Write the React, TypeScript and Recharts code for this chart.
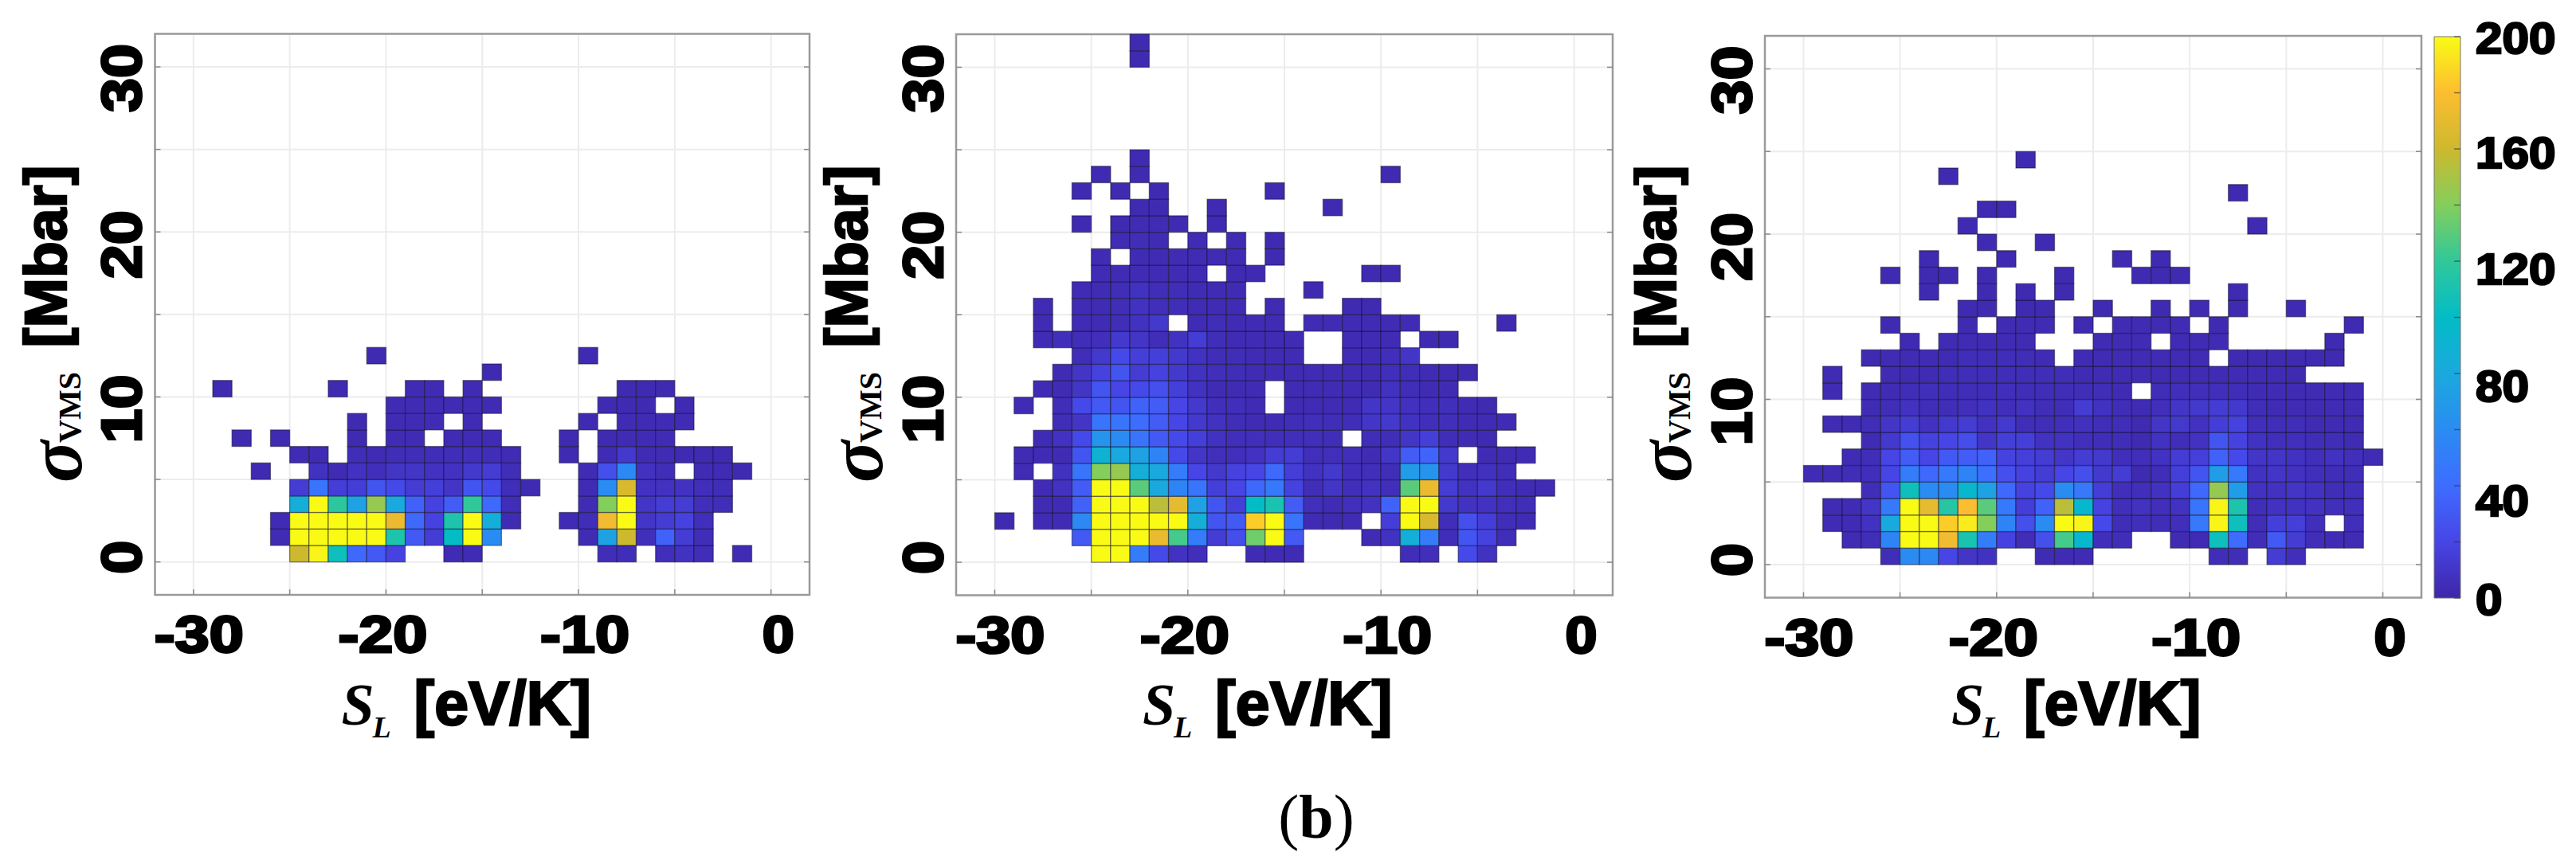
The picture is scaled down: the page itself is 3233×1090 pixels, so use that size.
import React from 'react';
import {
  Bar,
  BarChart,
  CartesianGrid,
  ReferenceArea,
  Scatter,
  ScatterChart,
  XAxis,
  YAxis,
} from 'recharts';

// Every row is one sigma bin (row 0 = 0-1 Mbar), every column one S_L bin from -30 to -1 eV/K. 0 = empty bin.
const countsLeft = [
  [0,0,0,0,0,160,198,105,38,30, 18,0,0,4,4,0,0,0,0,0, 0,5,5,0,6,8,5,0,4,0],
  [0,0,0,0,4,200,200,200,200,200, 112,30,14,100,200,60,0,0,0,0, 4,75,160,6,35,14,5,0,0,0],
  [0,0,0,0,4,200,200,200,200,200, 172,38,18,112,200,85,4,0,0,4, 5,175,200,10,14,18,6,0,0,0],
  [0,0,0,0,0,85,200,118,75,145, 80,35,18,32,120,38,5,0,0,0, 4,140,200,10,14,14,6,5,0,0],
  [0,0,0,0,0,14,45,15,15,28, 22,14,16,10,28,22,5,3,0,0, 4,60,165,8,8,8,6,5,0,0],
  [0,0,0,3,0,0,8,4,8,6, 10,10,8,8,12,14,5,0,0,0, 4,25,58,8,5,0,4,4,3,0],
  [0,0,0,0,0,4,4,0,5,4, 5,5,5,5,6,5,4,0,0,3, 0,4,12,4,4,3,3,3,0,0],
  [0,0,3,0,3,0,0,0,3,0, 4,4,0,4,4,4,0,0,0,3, 0,3,4,4,4,0,0,0,0,0],
  [0,0,0,0,0,0,0,0,3,0, 4,4,4,0,4,0,0,0,0,0, 3,0,4,4,4,4,0,0,0,0],
  [0,0,0,0,0,0,0,0,0,0, 4,4,4,4,4,4,0,0,0,0, 0,3,3,3,0,3,0,0,0,0],
  [0,3,0,0,0,0,0,3,0,0, 0,4,4,0,4,0,0,0,0,0, 0,0,3,3,3,0,0,0,0,0],
  [0,0,0,0,0,0,0,0,0,0, 0,0,0,0,0,3,0,0,0,0, 0,0,0,0,0,0,0,0,0,0],
  [0,0,0,0,0,0,0,0,0,3, 0,0,0,0,0,0,0,0,0,0, 3,0,0,0,0,0,0,0,0,0],
];

const countsMiddle = [
  [0,0,0,0,0,200,200,50,22,8, 6,0,0,4,4,4,0,0,0,0, 0,5,6,0,22,8,0,0,0,0],
  [0,0,0,0,30,200,200,200,172,125, 50,14,24,135,200,30,0,0,0,4, 8,85,50,5,28,18,5,0,0,0],
  [3,0,4,4,58,200,200,200,200,200, 85,28,30,185,200,45,4,3,4,0, 15,200,165,5,25,15,5,4,0,0],
  [0,0,4,4,35,200,200,200,155,170, 75,28,16,100,110,32,6,4,6,8, 35,200,200,12,8,8,6,5,0,0],
  [0,0,4,8,32,200,200,130,80,55, 45,16,20,38,48,18,5,10,6,8, 6,130,172,14,8,12,6,4,4,0],
  [0,4,0,8,45,140,145,85,80,50, 20,12,18,20,38,15,8,12,6,6, 5,70,65,12,6,7,5,0,0,0],
  [0,4,4,4,28,90,80,75,55,22, 10,6,6,8,14,14,6,6,6,4, 10,32,36,12,0,4,4,4,0,0],
  [0,0,4,8,22,65,60,45,30,22, 16,8,6,6,6,6,6,5,0,5, 5,10,16,5,4,3,0,0,0,0],
  [0,0,0,5,10,45,45,40,32,20, 12,8,5,4,4,5,6,5,5,10, 12,8,6,6,4,4,4,0,0,0],
  [0,4,0,5,22,30,28,35,32,20, 12,6,6,4,0,4,4,4,4,10, 10,7,6,6,4,3,0,0,0,0],
  [0,0,4,4,10,28,20,22,25,16, 8,4,4,4,0,4,4,4,4,4, 8,5,4,4,0,0,0,0,0,0],
  [0,0,0,4,10,18,28,14,18,12, 8,6,5,4,4,4,4,4,4,4, 6,5,4,3,3,0,0,0,0,0],
  [0,0,0,0,5,12,22,16,16,12, 8,5,5,4,4,4,0,0,4,4, 6,10,0,0,0,0,0,0,0,0],
  [0,0,4,6,5,6,12,10,5,8, 14,5,4,4,4,4,0,0,4,4, 4,0,3,3,0,0,0,0,0,0],
  [0,0,4,0,4,4,5,8,12,0, 4,5,4,4,4,0,4,4,4,4, 4,4,0,0,0,0,3,0,0,0],
  [0,0,4,0,4,4,5,8,6,5, 4,4,4,0,4,0,0,0,3,3, 0,0,0,0,0,0,0,0,0,0],
  [0,0,0,0,4,4,5,8,5,5, 4,4,4,0,0,0,3,0,0,0, 0,0,0,0,0,0,0,0,0,0],
  [0,0,0,0,0,4,4,4,4,4, 4,0,3,3,0,0,0,0,0,3, 3,0,0,0,0,0,0,0,0,0],
  [0,0,0,0,0,4,0,4,4,4, 4,4,4,0,3,0,0,0,0,0, 0,0,0,0,0,0,0,0,0,0],
  [0,0,0,0,0,0,4,5,4,0, 4,0,4,0,3,0,0,0,0,0, 0,0,0,0,0,0,0,0,0,0],
  [0,0,0,0,3,0,3,4,4,3, 0,3,0,0,0,0,0,0,0,0, 0,0,0,0,0,0,0,0,0,0],
  [0,0,0,0,0,0,0,3,3,0, 0,3,0,0,0,0,0,3,0,0, 0,0,0,0,0,0,0,0,0,0],
  [0,0,0,0,3,0,3,0,3,0, 0,0,0,0,3,0,0,0,0,0, 0,0,0,0,0,0,0,0,0,0],
  [0,0,0,0,0,3,0,3,0,0, 0,0,0,0,0,0,0,0,0,0, 3,0,0,0,0,0,0,0,0,0],
  [0,0,0,0,0,0,0,3,0,0, 0,0,0,0,0,0,0,0,0,0, 0,0,0,0,0,0,0,0,0,0],
  [0,0,0,0,0,0,0,0,0,0, 0,0,0,0,0,0,0,0,0,0, 0,0,0,0,0,0,0,0,0,0],
  [0,0,0,0,0,0,0,0,0,0, 0,0,0,0,0,0,0,0,0,0, 0,0,0,0,0,0,0,0,0,0],
  [0,0,0,0,0,0,0,0,0,0, 0,0,0,0,0,0,0,0,0,0, 0,0,0,0,0,0,0,0,0,0],
  [0,0,0,0,0,0,0,0,0,0, 0,0,0,0,0,0,0,0,0,0, 0,0,0,0,0,0,0,0,0,0],
  [0,0,0,0,0,0,0,0,0,0, 0,0,0,0,0,0,0,0,0,0, 0,0,0,0,0,0,0,0,0,0],
  [0,0,0,0,0,0,0,3,0,0, 0,0,0,0,0,0,0,0,0,0, 0,0,0,0,0,0,0,0,0,0],
  [0,0,0,0,0,0,0,3,0,0, 0,0,0,0,0,0,0,0,0,0, 0,0,0,0,0,0,0,0,0,0],
];

const countsRight = [
  [0,0,0,0,5,60,58,20,10,8, 0,0,4,4,4,0,0,0,0,0, 0,5,5,0,14,6,0,0,0,0],
  [0,0,4,5,55,200,200,175,110,50, 18,5,25,125,95,6,5,0,0,4, 4,105,40,5,30,14,5,4,4,0],
  [0,4,4,8,80,200,200,185,195,140, 55,25,60,200,198,22,5,6,5,6, 48,198,105,5,16,16,6,0,6,0],
  [0,4,4,10,48,200,170,115,180,130, 48,15,35,155,95,18,6,8,6,8, 45,198,112,5,8,8,8,6,6,0],
  [0,0,0,5,28,105,60,60,95,75, 38,18,22,60,48,15,6,6,8,15, 38,145,72,8,8,10,8,5,6,0],
  [4,4,5,6,20,50,38,48,55,42, 25,18,14,20,25,12,14,3,5,16, 28,72,48,8,10,8,6,5,5,0],
  [0,0,4,5,20,32,20,30,32,35, 18,16,14,10,14,12,6,6,8,14, 16,35,22,10,10,8,6,8,6,4],
  [0,0,0,4,12,26,18,20,24,10, 16,16,8,8,6,5,5,3,8,5, 8,28,18,8,6,6,5,5,4,0],
  [0,4,4,5,10,14,8,12,14,8, 12,5,5,6,7,5,5,3,10,12, 8,15,18,6,5,5,4,4,4,0],
  [0,0,0,4,5,8,5,5,6,8, 6,8,5,5,14,8,5,4,6,10, 12,14,12,5,4,4,4,4,4,0],
  [0,4,0,4,4,5,6,5,5,5, 6,5,5,5,5,5,4,0,5,6, 6,6,5,4,4,4,4,4,4,0],
  [0,4,0,0,4,4,4,5,5,5, 5,5,5,5,4,4,4,4,4,4, 4,4,4,4,4,3,0,0,0,0],
  [0,0,0,3,4,4,4,4,5,5, 5,5,4,0,4,4,4,4,4,4, 4,0,3,3,3,3,3,3,0,0],
  [0,0,0,0,0,3,0,4,4,4, 4,4,0,0,0,4,4,4,0,4, 4,4,0,0,0,0,0,3,0,0],
  [0,0,0,0,3,0,0,0,3,0, 4,4,4,0,3,0,4,4,4,4, 0,3,0,0,0,0,0,0,3,0],
  [0,0,0,0,0,0,0,0,3,3, 0,3,3,0,0,3,0,0,3,0, 3,0,3,0,0,3,0,0,0,0],
  [0,0,0,0,0,0,3,0,0,3, 0,3,0,3,0,0,0,0,0,0, 0,0,3,0,0,0,0,0,0,0],
  [0,0,0,0,3,0,3,3,0,3, 0,0,0,3,0,0,0,3,3,3, 0,0,0,0,0,0,0,0,0,0],
  [0,0,0,0,0,0,3,0,0,0, 3,0,0,0,0,0,3,0,3,0, 0,0,0,0,0,0,0,0,0,0],
  [0,0,0,0,0,0,0,0,0,3, 0,0,3,0,0,0,0,0,0,0, 0,0,0,0,0,0,0,0,0,0],
  [0,0,0,0,0,0,0,0,3,0, 0,0,0,0,0,0,0,0,0,0, 0,0,0,3,0,0,0,0,0,0],
  [0,0,0,0,0,0,0,0,0,3, 3,0,0,0,0,0,0,0,0,0, 0,0,0,0,0,0,0,0,0,0],
  [0,0,0,0,0,0,0,0,0,0, 0,0,0,0,0,0,0,0,0,0, 0,0,3,0,0,0,0,0,0,0],
  [0,0,0,0,0,0,0,3,0,0, 0,0,0,0,0,0,0,0,0,0, 0,0,0,0,0,0,0,0,0,0],
  [0,0,0,0,0,0,0,0,0,0, 0,3,0,0,0,0,0,0,0,0, 0,0,0,0,0,0,0,0,0,0],
];

const xGridTicks = [-30, -25, -20, -15, -10, -5, 0];
const yGridTicks = [0, 5, 10, 15, 20, 25, 30];
const xLabelTicks = [-30, -20, -10, 0];
const yLabelTicks = [0, 10, 20, 30];

const colorValues = [0, 20, 40, 60, 80, 100, 120, 140, 160, 180, 200];
const colorStops = ['#3e26a8', '#4745e6', '#3e6cff', '#2a8cf2', '#1aa9de', '#03bcc6', '#30c89a', '#84ce5c', '#cdb92e', '#fdbd30', '#f9fb15'];
const colorbarTicks = [0, 20, 40, 60, 80, 100, 120, 140, 160, 180, 200];
const colorbarLabels = [0, 40, 80, 120, 160, 200];
const colorbarData = [{ name: 'counts', top: 200 }];

const FONT_SANS = '"Liberation Sans", Arial, sans-serif';
const FONT_SERIF = '"Liberation Serif", "Times New Roman", serif';

// hand nudges: the labels in the source figure are not centred on their ticks
const xLabelNudge: Record<number, number> = { '-30': 7, '-20': -4, '-10': 8, 0: 9 };
const yLabelNudge: Record<number, number> = { 30: 14, 20: 16, 10: 15, 0: -6 };
const barLabelNudge: Record<number, number> = { 0: 1, 40: 18, 80: 15, 120: 9, 160: 4, 200: 1 };

function hexToRgb(hex: string) {
  return [1, 3, 5].map((i) => parseInt(hex.slice(i, i + 2), 16));
}

function countColor(value: number) {
  const v = Math.min(value, 200);
  const i = Math.min(Math.floor(v / 20), colorStops.length - 2);
  const t = (v - colorValues[i]) / 20;
  const a = hexToRgb(colorStops[i]);
  const b = hexToRgb(colorStops[i + 1]);
  const rgb = a.map((c, k) => Math.round(c + (b[k] - c) * t));
  return `rgb(${rgb.join(',')})`;
}

function toCells(rows: number[][]) {
  const cells: { x: number; y: number; count: number }[] = [];
  rows.forEach((row, j) =>
    row.forEach((count, i) => {
      if (count > 0) cells.push({ x: -30 + i + 0.5, y: j + 0.5, count });
    })
  );
  return cells;
}

function XTick({ x, y, payload }: any) {
  const value = payload.value;
  return (
    <g>
      <line x1={x} x2={x} y1={y} y2={y - 7} stroke="#8a8a8a" strokeWidth={1.5} />
      {xLabelTicks.includes(value) && (
        <text
          x={x + xLabelNudge[value]}
          y={y + 72}
          textAnchor="middle"
          fontFamily={FONT_SANS}
          fontWeight={700}
          fontSize={64}
          stroke="#000"
          strokeWidth={3}
          textLength={value === 0 ? 40 : 112}
          lengthAdjust="spacingAndGlyphs"
        >
          {value}
        </text>
      )}
    </g>
  );
}

function YTick({ x, y, payload, plotW }: any) {
  const value = payload.value;
  const tx = x - 17;
  const ty = y + yLabelNudge[value];
  return (
    <g>
      <line x1={x} x2={x + 7} y1={y} y2={y} stroke="#8a8a8a" strokeWidth={1.5} />
      <line x1={x + plotW} x2={x + plotW - 7} y1={y} y2={y} stroke="#8a8a8a" strokeWidth={1.5} />
      {yLabelTicks.includes(value) && (
        <text
          x={tx}
          y={ty}
          transform={`rotate(-90 ${tx} ${ty})`}
          textAnchor="middle"
          fontFamily={FONT_SANS}
          fontWeight={700}
          fontSize={70}
          stroke="#000"
          strokeWidth={3}
          textLength={value === 0 ? 42 : 86}
          lengthAdjust="spacingAndGlyphs"
        >
          {value}
        </text>
      )}
    </g>
  );
}

function BarTick({ x, y, payload }: any) {
  const value = payload.value;
  const label = String(value);
  return (
    <g>
      <line x1={x} x2={x - 8} y1={y} y2={y} stroke="#333" strokeOpacity={0.6} strokeWidth={1.5} />
      {colorbarLabels.includes(value) && (
        <text
          x={x + 19}
          y={y + barLabelNudge[value] + 20}
          fontFamily={FONT_SANS}
          fontWeight={700}
          fontSize={55}
          stroke="#000"
          strokeWidth={2.5}
          textLength={label.length * 33.5}
          lengthAdjust="spacingAndGlyphs"
        >
          {label}
        </text>
      )}
    </g>
  );
}

function Panel({ rows, left, width, plotLeft, plotWidth, plotTop, plotHeight }: any) {
  const cells = toCells(rows);
  const height = 960;
  const cellW = plotWidth / 34;
  const cellH = plotHeight / 34;
  const lx = plotLeft; // axis-title offsets are measured from the plot's left edge
  const by = plotTop + plotHeight;

  return (
    <div style={{ position: 'absolute', left, top: 0 }}>
      <ScatterChart
        width={width}
        height={height}
        margin={{ left: plotLeft - 1, top: plotTop, right: width - plotLeft - plotWidth, bottom: height - by - 1 }}
      >
        <CartesianGrid stroke="#ececec" strokeWidth={2} />
        <XAxis
          type="number"
          dataKey="x"
          domain={[-32, 2]}
          ticks={xGridTicks}
          interval={0}
          height={1}
          axisLine={false}
          tickLine={false}
          tickSize={0}
          tickMargin={0}
          tick={<XTick />}
        />
        <YAxis
          type="number"
          dataKey="y"
          domain={[-2, 32]}
          ticks={yGridTicks}
          interval={0}
          width={1}
          axisLine={false}
          tickLine={false}
          tickSize={0}
          tickMargin={0}
          tick={<YTick plotW={plotWidth} />}
        />
        <Scatter
          data={cells}
          isAnimationActive={false}
          shape={(props: any) => (
            <rect
              x={props.cx - cellW / 2}
              y={props.cy - cellH / 2}
              width={cellW}
              height={cellH}
              fill={countColor(props.payload.count)}
              stroke="#14102e"
              strokeOpacity={0.5}
              strokeWidth={1.3}
            />
          )}
        />
        <ReferenceArea x1={-32} x2={2} y1={-2} y2={32} fill="none" stroke="#9a9a9a" strokeWidth={2.5} ifOverflow="visible" />

        <text
          transform={`translate(${lx - 112} 322) rotate(-90)`}
          textAnchor="middle"
          fontFamily={FONT_SANS}
          fontWeight={700}
          fontSize={75}
          stroke="#000"
          strokeWidth={2.5}
        >
          [Mbar]
        </text>
        <text
          transform={`translate(${lx - 93} 606) rotate(-90)`}
          fontFamily={FONT_SERIF}
          fontStyle="italic"
          fontWeight={700}
          fontSize={98}
        >
          σ
        </text>
        <text
          transform={`translate(${lx - 94} 556) rotate(-90)`}
          fontFamily={FONT_SERIF}
          fontWeight={700}
          fontSize={40}
        >
          VMS
        </text>

        <text x={lx + 234} y={910} fontFamily={FONT_SERIF} fontStyle="italic" fontWeight={700} fontSize={74}>
          S
        </text>
        <text x={lx + 273} y={926} fontFamily={FONT_SERIF} fontStyle="italic" fontWeight={700} fontSize={38}>
          L
        </text>
        <text
          x={lx + 325}
          y={910}
          fontFamily={FONT_SANS}
          fontWeight={700}
          fontSize={77}
          stroke="#000"
          strokeWidth={2.5}
        >
          [eV/K]
        </text>
      </ScatterChart>
    </div>
  );
}

function Colorbar() {
  return (
    <div style={{ position: 'absolute', left: 3040, top: 0 }}>
      <BarChart
        width={193}
        height={800}
        data={colorbarData}
        barCategoryGap={0}
        margin={{ left: 15, right: 144, top: 46, bottom: 49 }}
      >
        <defs>
          <linearGradient id="parula" x1="0" y1="1" x2="0" y2="0">
            {colorStops.map((c, i) => (
              <stop key={c} offset={colorValues[i] / 200} stopColor={c} />
            ))}
          </linearGradient>
        </defs>
        <XAxis dataKey="name" hide />
        <YAxis
          orientation="right"
          type="number"
          domain={[0, 200]}
          ticks={colorbarTicks}
          interval={0}
          width={1}
          axisLine={false}
          tickLine={false}
          tickSize={0}
          tickMargin={0}
          tick={<BarTick />}
        />
        <Bar dataKey="top" fill="url(#parula)" stroke="#777" strokeWidth={1} isAnimationActive={false} />
      </BarChart>
    </div>
  );
}

export default function App() {
  return (
    <div style={{ position: 'absolute', left: 0, top: 0, width: 3233, height: 1090, background: '#fff', overflow: 'hidden' }}>
      <Panel rows={countsLeft} left={0} width={1030} plotLeft={194.5} plotWidth={821.5} plotTop={42.6} plotHeight={704.5} />
      <Panel rows={countsMiddle} left={1020} width={1030} plotLeft={180} plotWidth={824} plotTop={43} plotHeight={704.5} />
      <Panel rows={countsRight} left={2050} width={1000} plotLeft={165} plotWidth={824} plotTop={45} plotHeight={705.5} />
      <Colorbar />
      <div
        style={{
          position: 'absolute',
          left: 1592,
          width: 120,
          top: 981,
          textAlign: 'center',
          fontFamily: FONT_SERIF,
          fontSize: 78,
          lineHeight: '90px',
        }}
      >
        (<span style={{ fontWeight: 700 }}>b</span>)
      </div>
    </div>
  );
}
